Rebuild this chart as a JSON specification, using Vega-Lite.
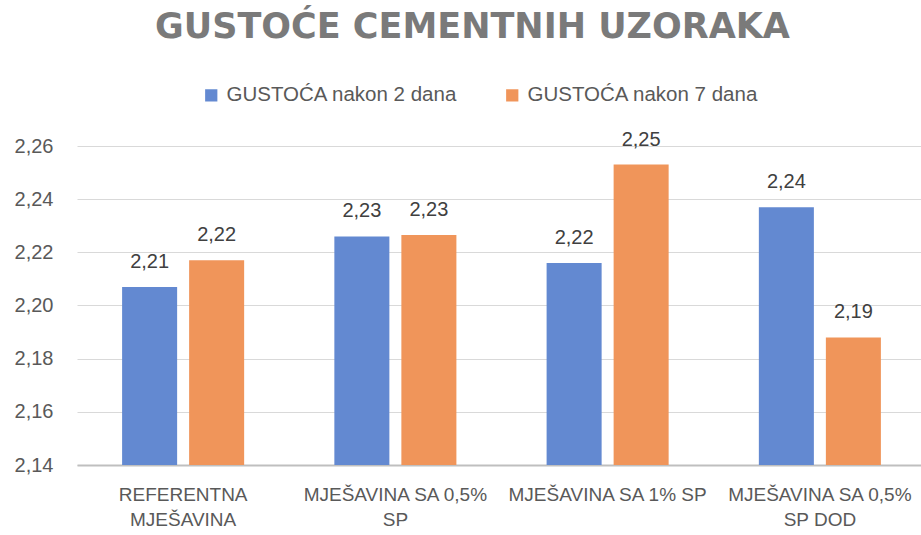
{
  "$schema": "https://vega.github.io/schema/vega-lite/v6.json",
  "width": 849,
  "height": 319,
  "autosize": "none",
  "padding": {"left": 77, "top": 146, "right": 0, "bottom": 70},
  "background": "white",
  "config": {
    "locale": {"number": {"decimal": ",", "thousands": ".", "grouping": [3], "currency": ["", " €"]}},
    "view": {"stroke": null},
    "font": "Liberation Sans"
  },
  "title": {
    "text": "GUSTOĆE CEMENTNIH UZORAKA",
    "font": "DejaVu Sans",
    "fontSize": 35,
    "fontWeight": "bold",
    "color": "#7a7a7a",
    "anchor": "middle",
    "frame": "group",
    "dx": -29,
    "offset": 40
  },
  "data": {
    "values": [
      {"uzorak": "REFERENTNA|MJEŠAVINA", "serija": "GUSTOĆA  nakon 2 dana", "gustoca": 2.207},
      {"uzorak": "REFERENTNA|MJEŠAVINA", "serija": "GUSTOĆA  nakon 7 dana", "gustoca": 2.217},
      {"uzorak": "MJEŠAVINA SA 0,5%|SP", "serija": "GUSTOĆA  nakon 2 dana", "gustoca": 2.226},
      {"uzorak": "MJEŠAVINA SA 0,5%|SP", "serija": "GUSTOĆA  nakon 7 dana", "gustoca": 2.2265},
      {"uzorak": "MJEŠAVINA SA 1% SP", "serija": "GUSTOĆA  nakon 2 dana", "gustoca": 2.216},
      {"uzorak": "MJEŠAVINA SA 1% SP", "serija": "GUSTOĆA  nakon 7 dana", "gustoca": 2.253},
      {"uzorak": "MJEŠAVINA SA 0,5%|SP DOD", "serija": "GUSTOĆA  nakon 2 dana", "gustoca": 2.237},
      {"uzorak": "MJEŠAVINA SA 0,5%|SP DOD", "serija": "GUSTOĆA  nakon 7 dana", "gustoca": 2.188}
    ]
  },
  "encoding": {
    "x": {
      "field": "uzorak",
      "type": "nominal",
      "sort": null,
      "scale": {"paddingInner": 0.425, "paddingOuter": 0.2125},
      "axis": {
        "title": null,
        "labelAngle": 0,
        "labelExpr": "split(datum.label, '|')",
        "domainColor": "#bfbfbf",
        "domainWidth": 2,
        "ticks": false,
        "grid": false,
        "labelFontSize": 19,
        "labelColor": "#595959",
        "labelPadding": 20,
        "labelBaseline": "top",
        "labelLineHeight": 25,
        "labelLimit": 300
      }
    },
    "y": {
      "field": "gustoca",
      "type": "quantitative",
      "scale": {"domain": [2.14, 2.26], "nice": false, "zero": false},
      "axis": {
        "title": null,
        "values": [2.14, 2.16, 2.18, 2.2, 2.22, 2.24, 2.26],
        "format": ".2f",
        "domain": false,
        "ticks": false,
        "labelFontSize": 20,
        "labelColor": "#595959",
        "labelPadding": 24,
        "gridColor": "#d9d9d9",
        "gridWidth": 1
      }
    },
    "xOffset": {"field": "serija", "type": "nominal", "scale": {"paddingInner": 0.179}}
  },
  "layer": [
    {
      "mark": {"type": "bar", "clip": true},
      "encoding": {
        "color": {
          "field": "serija",
          "type": "nominal",
          "scale": {"range": ["#6389d1", "#f0955a"]},
          "legend": {
            "orient": "none",
            "legendX": 124,
            "legendY": -61,
            "direction": "horizontal",
            "title": null,
            "symbolType": "square",
            "symbolSize": 150,
            "symbolStrokeWidth": 0,
            "labelFontSize": 20.5,
            "labelLimit": 400,
            "labelColor": "#595959",
            "columnPadding": 38,
            "labelOffset": 5
          }
        }
      }
    },
    {
      "mark": {"type": "text", "dy": -19, "baseline": "alphabetic", "fontSize": 20, "color": "#404040"},
      "encoding": {"text": {"field": "gustoca", "type": "quantitative", "format": ".2f"}}
    }
  ]
}
